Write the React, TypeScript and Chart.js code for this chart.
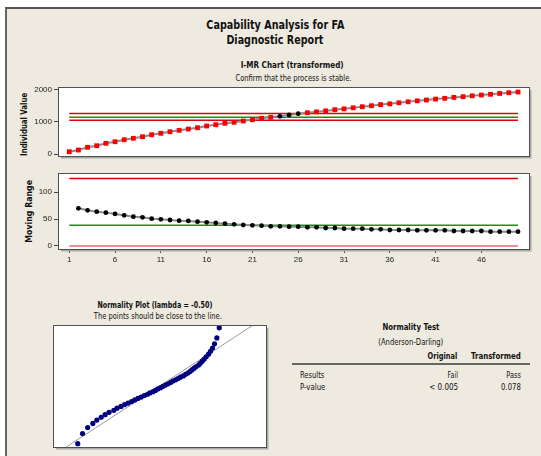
import React, { useEffect, useRef } from "react";
import { Chart, registerables } from "chart.js";

Chart.register(...registerables);

// ---------------- data ----------------
const individualValues = [
  77, 129, 213, 262, 336, 385, 447, 490, 539, 601,
  644, 693, 736, 776, 816, 869, 909, 952, 983, 1023,
  1063, 1106, 1137, 1168, 1208, 1248, 1278, 1305, 1335, 1372,
  1398, 1430, 1463, 1494, 1528, 1552, 1585, 1615, 1645, 1670,
  1698, 1722, 1750, 1773, 1800, 1823, 1846, 1872, 1895, 1916,
];
const inControlObs = [24, 25, 26];
const individualUCL = 1255;
const individualCL = 1135;
const individualLCL = 1050;
const individualTicks = [0, 1000, 2000];

const movingRanges = [
  70.1, 66.4, 63.9, 62.1, 59.6, 57.1, 54.6, 53.4, 50.9, 49.7,
  48.4, 47.2, 46.6, 45.3, 44.1, 42.8, 41.6, 40.3, 39.1, 38.5,
  37.9, 36.6, 36.6, 36.0, 36.0, 34.8, 34.8, 33.5, 33.5, 32.3,
  32.3, 32.3, 31.0, 31.0, 29.8, 29.8, 29.8, 29.2, 29.2, 29.2,
  29.2, 27.9, 27.9, 27.9, 27.9, 26.7, 26.7, 26.7, 26.7,
];
const mrUCL = 125.5;
const mrCL = 38.5;
const mrLCL = 0;
const mrTicks = [0, 50, 100];
const observationTicks = [1, 6, 11, 16, 21, 26, 31, 36, 41, 46];

const normalScores = [
  -2.24, -1.85, -1.62, -1.46, -1.33, -1.22, -1.12, -1.03, -0.95, -0.87,
  -0.8, -0.73, -0.67, -0.61, -0.55, -0.49, -0.44, -0.38, -0.33, -0.28,
  -0.23, -0.18, -0.125, -0.075, -0.025, 0.025, 0.075, 0.125, 0.18, 0.23,
  0.28, 0.33, 0.38, 0.44, 0.49, 0.55, 0.61, 0.67, 0.73, 0.8,
  0.87, 0.95, 1.03, 1.12, 1.22, 1.33, 1.46, 1.62, 1.85, 2.24,
];
const transformedStd = [
  -2.08, -1.96, -1.83, -1.7, -1.6, -1.49, -1.39, -1.29, -1.17, -1.09,
  -0.99, -0.9, -0.81, -0.72, -0.64, -0.56, -0.48, -0.4, -0.32, -0.26,
  -0.18, -0.12, -0.06, 0.01, 0.07, 0.13, 0.2, 0.26, 0.32, 0.39,
  0.45, 0.51, 0.58, 0.64, 0.7, 0.75, 0.8, 0.85, 0.9, 0.97,
  1.01, 1.06, 1.11, 1.16, 1.22, 1.27, 1.32, 1.37, 1.43, 1.49,
];
const refLineEnds = [-2.37, 2.33];

// ---------------- styling ----------------
const BG = "#EEEAE0";
const TEXT_FONT = '"DejaVu Sans", Verdana, sans-serif';
const TICK_FONT = { family: '"Liberation Sans", Arial, sans-serif', size: 8 };
const RED = "#E00000";
const GREEN = "#1E8C1E";

const framePlugin = {
  id: "frame",
  beforeDraw(chart: any) {
    const { ctx, chartArea: a } = chart;
    ctx.save();
    ctx.fillStyle = "#ffffff";
    ctx.fillRect(a.left, a.top, a.right - a.left, a.bottom - a.top);
    ctx.restore();
  },
  afterDraw(chart: any) {
    const { ctx, chartArea: a } = chart;
    ctx.save();
    ctx.strokeStyle = "#a8a8a8";
    ctx.lineWidth = 2;
    ctx.beginPath();
    ctx.moveTo(a.right + 1.5, a.top + 2);
    ctx.lineTo(a.right + 1.5, a.bottom + 1.5);
    ctx.lineTo(a.left + 2, a.bottom + 1.5);
    ctx.stroke();
    ctx.strokeStyle = "#505050";
    ctx.lineWidth = 1;
    ctx.strokeRect(a.left - 0.5, a.top - 0.5, a.right - a.left + 1, a.bottom - a.top + 1);
    ctx.restore();
  },
};

function hLine(y: number, color: string) {
  return {
    data: [
      { x: 1, y },
      { x: 50, y },
    ],
    showLine: true,
    borderColor: color,
    borderWidth: 1.5,
    pointRadius: 0,
    order: 5,
  };
}

function ChartBox({ left, top, width, height, config }: any) {
  const ref = useRef<HTMLCanvasElement>(null);
  useEffect(() => {
    if (!ref.current) return;
    const c = new Chart(ref.current, config);
    return () => c.destroy();
  }, []);
  return (
    <canvas
      ref={ref}
      width={width}
      height={height}
      style={{ position: "absolute", left, top, width, height }}
    />
  );
}

const measureCtx = document.createElement("canvas").getContext("2d")!;

function Label({ text, x, y, w, size = 9, bold = false, align = "center", rotate = false }: any) {
  const font = `${bold ? "bold " : ""}${size}px ${TEXT_FONT}`;
  measureCtx.font = font;
  const nat = measureCtx.measureText(text).width;
  const s = w / nat;
  const left = align === "center" ? x - nat / 2 : align === "right" ? x - nat : x;
  const origin = align === "center" ? "center" : align === "right" ? "right" : "left";
  return (
    <div
      style={{
        position: "absolute",
        left,
        top: y - size * 0.6,
        width: nat,
        height: size * 1.2,
        lineHeight: `${size * 1.2}px`,
        font,
        whiteSpace: "nowrap",
        color: "#111",
        transformOrigin: `${origin} center`,
        transform: rotate ? `rotate(-90deg) scaleX(${s})` : `scaleX(${s})`,
      }}
    >
      {text}
    </div>
  );
}

const tickOpts = {
  font: TICK_FONT,
  color: "#222",
  padding: 2,
  autoSkip: false,
  maxRotation: 0,
  callback: (v: any) => String(v),
};

const axisCommon = (min: number, max: number, ticks: number[]) => ({
  type: "linear",
  min,
  max,
  afterBuildTicks: (scale: any) => {
    scale.ticks = ticks.map((v) => ({ value: v }));
  },
  ticks: tickOpts,
  grid: { display: true, drawOnChartArea: false, drawTicks: true, tickLength: 5, color: "#444" },
  border: { display: false },
});

const baseOptions = {
  responsive: false,
  animation: false,
  devicePixelRatio: 1,
  events: [],
  plugins: { legend: { display: false }, tooltip: { enabled: false } },
};

const iConfig = {
  type: "scatter",
  data: {
    datasets: [
      {
        data: individualValues.map((v, i) => ({ x: i + 1, y: v })),
        showLine: true,
        borderColor: "#8a8a8a",
        borderWidth: 2,
        pointStyle: individualValues.map((_, i) => (inControlObs.includes(i + 1) ? "circle" : "rect")),
        pointRadius: individualValues.map((_, i) => (inControlObs.includes(i + 1) ? 2.4 : 3.4)),
        pointBackgroundColor: individualValues.map((_, i) => (inControlObs.includes(i + 1) ? "#000" : "#FF0000")),
        pointBorderWidth: 0,
        order: 1,
      },
      hLine(individualUCL, RED),
      hLine(individualCL, GREEN),
      hLine(individualLCL, RED),
    ],
  },
  options: {
    ...baseOptions,
    layout: { padding: { left: 0, right: 11, top: 8, bottom: 8 } },
    scales: {
      x: { type: "linear", min: -0.12, max: 51.2, display: false },
      y: {
        ...axisCommon(-55, 2040, individualTicks),
        afterFit: (s: any) => {
          s.width = 59;
        },
      },
    },
  },
  plugins: [framePlugin],
};

const mrConfig = {
  type: "scatter",
  data: {
    datasets: [
      {
        data: movingRanges.map((v, i) => ({ x: i + 2, y: v })),
        showLine: true,
        borderColor: "#8a8a8a",
        borderWidth: 2,
        pointStyle: "circle",
        pointRadius: 2.4,
        pointBackgroundColor: "#000",
        pointBorderWidth: 0,
        order: 1,
      },
      hLine(mrUCL, RED),
      hLine(mrCL, GREEN),
      hLine(mrLCL, "#E86A6A"),
    ],
  },
  options: {
    ...baseOptions,
    layout: { padding: { left: 0, right: 11, top: 8, bottom: 0 } },
    scales: {
      x: {
        ...axisCommon(-0.12, 51.2, observationTicks),
        grid: { display: true, drawOnChartArea: false, drawTicks: true, tickLength: 4, color: "#444" },
        afterFit: (s: any) => {
          s.height = 20;
        },
      },
      y: {
        ...axisCommon(-5.6, 134, mrTicks),
        afterFit: (s: any) => {
          s.width = 59;
        },
      },
    },
  },
  plugins: [framePlugin],
};

const normConfig = {
  type: "scatter",
  data: {
    datasets: [
      {
        data: transformedStd.map((v, i) => ({ x: v, y: normalScores[i] })),
        pointStyle: "circle",
        pointRadius: 2.6,
        pointBackgroundColor: "#000080",
        pointBorderWidth: 0,
        clip: false,
        order: 1,
      },
      {
        data: refLineEnds.map((v) => ({ x: v, y: v })),
        showLine: true,
        borderColor: "#9a9a9a",
        borderWidth: 1,
        pointRadius: 0,
        order: 5,
      },
    ],
  },
  options: {
    ...baseOptions,
    layout: { padding: { left: 3, right: 4, top: 4, bottom: 4 } },
    scales: {
      x: { type: "linear", min: -2.68, max: 2.67, display: false },
      y: { type: "linear", min: -2.37, max: 2.31, display: false },
    },
  },
  plugins: [framePlugin],
};

export default function App() {
  return (
    <div
      style={{
        position: "fixed",
        left: 0,
        top: 0,
        width: 541,
        height: 456,
        overflow: "hidden",
        background: "#fff",
      }}
    >
      <div
        style={{
          position: "absolute",
          left: 5,
          top: 7,
          width: 560,
          height: 470,
          background: BG,
          borderLeft: "2px solid #666",
          borderTop: "2px solid #555",
        }}
      />
      <Label text="Capability Analysis for FA" x={275} y={24.5} w={138} size={13} bold />
      <Label text="Diagnostic Report" x={275} y={40} w={97} size={13} bold />
      <Label text="I-MR Chart (transformed)" x={292} y={65.7} w={103} size={9} bold />
      <Label text="Confirm that the process is stable." x={293} y={78} w={116} size={9} />
      <Label text="Individual Value" x={24.3} y={124.5} w={63} size={9} bold rotate />
      <Label text="Moving Range" x={29.3} y={211.5} w={62.7} size={9} bold rotate />

      <ChartBox left={0} top={80} width={540} height={84} config={iConfig} />
      <ChartBox left={0} top={166} width={540} height={103} config={mrConfig} />

      <Label text="Normality Plot (lambda = -0.50)" x={154.5} y={305} w={115} size={9} bold />
      <Label text="The points should be close to the line." x={158} y={316} w={128} size={9} />
      <ChartBox left={50} top={322} width={220} height={129} config={normConfig} />

      <Label text="Normality Test" x={410.5} y={327.7} w={57} size={9} bold />
      <Label text="(Anderson-Darling)" x={410.5} y={342} w={65} size={9} />
      <Label text="Original" x={457.7} y={356} w={29.7} size={9} bold align="right" />
      <Label text="Transformed" x={520.7} y={356} w={50} size={9} bold align="right" />
      <div style={{ position: "absolute", left: 292, top: 362.5, width: 238, height: 2, background: "#666" }} />
      <Label text="Results" x={300} y={375} w={24.3} size={9} align="left" />
      <Label text="Fail" x={457.7} y={375} w={10.3} size={9} align="right" />
      <Label text="Pass" x={520.7} y={375} w={14.7} size={9} align="right" />
      <Label text="P-value" x={300} y={387} w={25.3} size={9} align="left" />
      <Label text="< 0.005" x={457.7} y={387} w={29} size={9} align="right" />
      <Label text="0.078" x={520.7} y={387} w={19.7} size={9} align="right" />
    </div>
  );
}
